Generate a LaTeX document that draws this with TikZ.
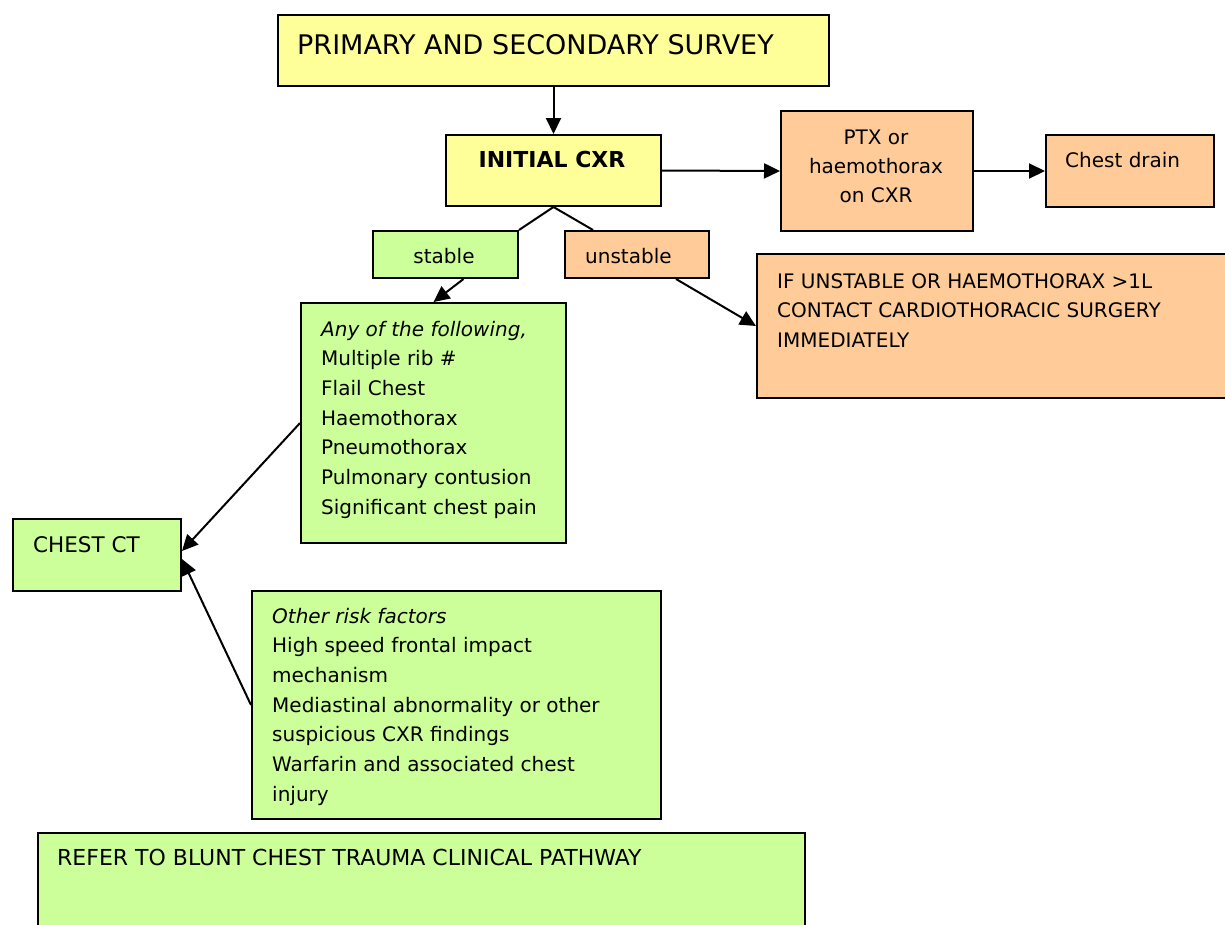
\documentclass[tikz,border=0pt]{standalone}
\usepackage{fontspec}
\setmainfont{DejaVu Sans}
\usetikzlibrary{arrows.meta,calc}
\definecolor{ylw}{HTML}{FFFF99}
\definecolor{grn}{HTML}{CCFF99}
\definecolor{org}{HTML}{FFCC99}
\newcommand{\txtlines}[2]{\parbox[t]{#1}{\raggedright\fontsize{20pt}{29.7pt}\selectfont #2}}
\tikzset{
  box/.style={draw=black, line width=2pt, rectangle, inner sep=0pt, anchor=north west},
  txt/.style={inner sep=0pt, anchor=base west, font=\fontsize{20pt}{24pt}\selectfont},
  arr/.style={line width=2pt, -{Triangle[length=16pt,width=15pt]}},
  ln/.style={line width=2pt}
}
\begin{document}
\begin{tikzpicture}[x=1pt,y=-1pt]
\clip (0,0) rectangle (1225,924);
\fill[white] (0,0) rectangle (1225,924);
% boxes
\node[box, fill=ylw, minimum width=551pt, minimum height=71pt] (title) at (277,14) {};
\node[box, fill=ylw, minimum width=215pt, minimum height=71pt] (cxr) at (445,134) {};
\node[box, fill=org, minimum width=192pt, minimum height=120pt] (ptx) at (780,110) {};
\node[box, fill=org, minimum width=168pt, minimum height=72pt] (drain) at (1045,134) {};
\node[box, fill=grn, minimum width=145pt, minimum height=47pt] (stable) at (372,230) {};
\node[box, fill=org, minimum width=144pt, minimum height=47pt] (unstable) at (564,230) {};
\node[box, fill=org, minimum width=470pt, minimum height=144pt] (ifbox) at (756,253) {};
\node[box, fill=grn, minimum width=265pt, minimum height=240pt] (any) at (300,302) {};
\node[box, fill=grn, minimum width=168pt, minimum height=72pt] (ct) at (12,518) {};
\node[box, fill=grn, minimum width=409pt, minimum height=228pt] (other) at (251,590) {};
\node[box, fill=grn, minimum width=767pt, minimum height=120pt] (refer) at (37,832) {};
% texts
\node[txt, font=\fontsize{27pt}{30pt}\selectfont] (titleT) at (297,54) {PRIMARY AND SECONDARY SURVEY};
\node[txt, anchor=base, font=\fontsize{22pt}{24pt}\selectfont\bfseries] (cxrT) at (552,167) {INITIAL CXR};
\node[txt, anchor=base] (ptxT) at (876,144) {\parbox[t]{180pt}{\centering\fontsize{20pt}{29pt}\selectfont PTX or\\haemothorax\\on CXR}};
\node[txt] (drainT) at (1065,167) {Chest drain};
\node[txt, anchor=base] (stableT) at (444,263) {stable};
\node[txt] (unstableT) at (585,263) {unstable};
\node[txt] (ifT) at (777,288) {\txtlines{440pt}{IF UNSTABLE OR HAEMOTHORAX >1L\\CONTACT CARDIOTHORACIC SURGERY\\IMMEDIATELY}};
\node[txt] (anyT) at (321,336) {\txtlines{240pt}{\textit{Any of the following,}\\Multiple rib \#\\Flail Chest\\Haemothorax\\Pneumothorax\\Pulmonary contusion\\Significant chest pain}};
\node[txt, font=\fontsize{21.5pt}{24pt}\selectfont] (ctT) at (33,552) {CHEST CT};
\node[txt] (otherT) at (272,623) {\txtlines{380pt}{\textit{Other risk factors}\\High speed frontal impact\\mechanism\\Mediastinal abnormality or other\\suspicious CXR findings\\Warfarin and associated chest\\injury}};
\node[txt, font=\fontsize{22pt}{24pt}\selectfont] (referT) at (57,865) {REFER TO BLUNT CHEST TRAUMA CLINICAL PATHWAY};
% connectors
\draw[arr] (title.south) -- (cxr.north);
\draw[arr] (cxr.east) -- (ptx.west);
\draw[arr] (ptx.east) -- (drain.west);
\draw[ln] (cxr.south) -- (stable.north east);
\draw[ln] (cxr.south) -- ($(unstable.north west)+(29,0)$);
\draw[arr] ($(stable.south)+(18,0)$) -- (any.north);
\draw[arr] ($(unstable.south)+(39,0)$) -- (ifbox.west);
\draw[arr] (any.west) -- ($(ct.east)+(0,-4)$);
\draw[arr] (other.west) -- ($(ct.east)+(0,4)$);
\end{tikzpicture}
\end{document}
